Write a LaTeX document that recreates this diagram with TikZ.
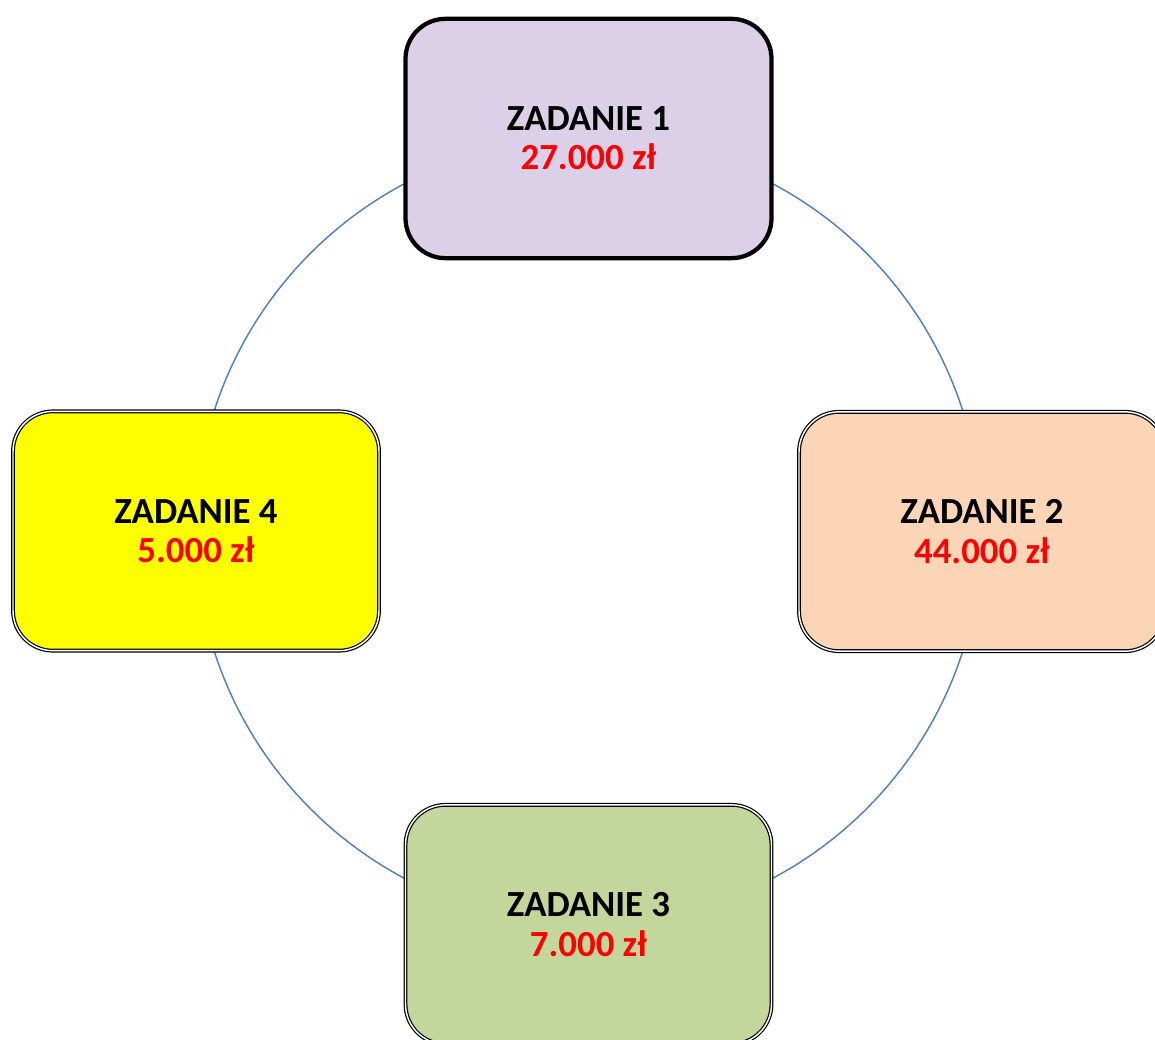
\documentclass[tikz,border=0pt]{standalone}
\usepackage{fontspec}
\setmainfont{Carlito}
\definecolor{lav}{HTML}{DCD0E8}
\definecolor{peach}{HTML}{FBD5B5}
\definecolor{olive}{HTML}{C3D69B}
\definecolor{brightyellow}{HTML}{FFFF00}
\definecolor{ring}{HTML}{4F81BD}
\definecolor{amt}{HTML}{FF0000}
\tikzset{
  task/.style={rectangle, rounded corners=30pt, minimum width=274.5pt, minimum height=179.5pt,
    align=center, font=\bfseries\fontsize{27.6}{29.5}\selectfont, inner sep=0pt},
  thickbox/.style={task, draw=black, line width=3.2pt},
  dblbox/.style={task, draw=black, line width=0.9pt, double=white, double distance=1.1pt},
  ringline/.style={draw=ring, line width=1.1pt}
}
\newcommand{\amount}[1]{\\\textcolor{amt}{#1}}
\begin{document}
\begin{tikzpicture}[x=0.75pt,y=-0.75pt]
\useasboundingbox (0,0) rectangle (1155,1039);
\clip (0,0) rectangle (1155,1039);
\coordinate (c) at (588.5,531);
\draw[ringline] (c) circle[radius=294.75pt];
\node[thickbox, fill=lav] (t1) at (588.5,138.5) {ZADANIE 1\amount{27.000 zł}};
\node[dblbox, fill=peach] (t2) at (982,531.5) {ZADANIE 2\amount{44.000 zł}};
\node[dblbox, fill=olive] (t3) at (588.5,924.5) {ZADANIE 3\amount{7.000 zł}};
\node[dblbox, fill=brightyellow] (t4) at (196,531) {ZADANIE 4\amount{5.000 zł}};
\end{tikzpicture}
\end{document}
